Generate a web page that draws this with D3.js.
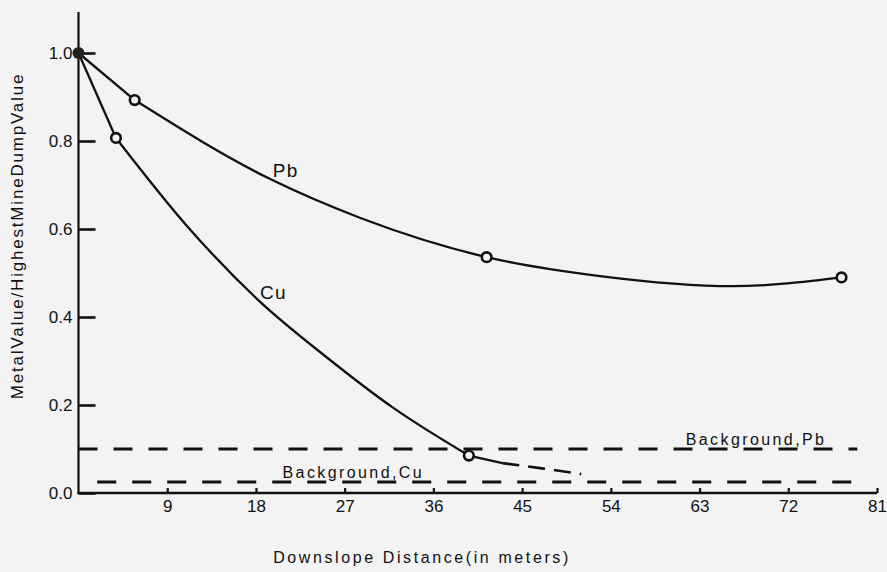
<!DOCTYPE html>
<html>
<head>
<meta charset="utf-8">
<script src="https://cdn.jsdelivr.net/npm/d3@7/dist/d3.min.js"></script>
<style>
  html, body { margin: 0; padding: 0; background: #f3f3f3; }
  svg { display: block; }
  text { font-family: "Liberation Sans", Arial, Helvetica, sans-serif; fill: #111; }
</style>
</head>
<body>
<svg id="chart" width="887" height="572"></svg>
<script>
// Sampled metal values (relative to the highest mine-dump value) vs. downslope distance, m
const pbSamples = [[0, 1.0], [5.7, 0.893], [41.4, 0.536], [77.4, 0.49]];
const cuSamples = [[0, 1.0], [3.8, 0.807], [39.6, 0.085]];

// Hand-fitted trend curves through the samples
const pbCurve = [[5.7, 0.893], [19.4, 0.714], [28.6, 0.625], [41.4, 0.536], [52.9, 0.493], [66.4, 0.470], [77.4, 0.49]];
const cuCurve = [[3.8, 0.807], [11, 0.607], [18.4, 0.435], [25.2, 0.308], [31.9, 0.194], [39.6, 0.085]];
const cuTail = [[39.6, 0.085], [43.0, 0.068]];
const cuExtrapolated = [[43.0, 0.068], [47.0, 0.056], [51.0, 0.043]];

// Background levels
const backgroundNames = ["Pb", "Cu"];
const backgroundValues = [0.10, 0.025];
const backgroundFrom = [0, 1.9];
const backgroundTo = [79, 79];
const backgroundLabelX = [61.6, 20.7];

const xTicks = [9, 18, 27, 36, 45, 54, 63, 72, 81];
const yTicks = [0, 0.2, 0.4, 0.6, 0.8, 1.0];

const svg = d3.select("#chart");
const ink = "#111";

const x = d3.scaleLinear().domain([0, 81]).range([78.5, 877]);
const y = d3.scaleLinear().domain([0, 1]).range([493, 53]);

// Axes
svg.append("line")
  .attr("x1", x(0)).attr("x2", x(0))
  .attr("y1", y(0) + 1).attr("y2", 12)
  .attr("stroke", ink).attr("stroke-width", 2.2);
svg.append("line")
  .attr("x1", x(0) - 1).attr("x2", x(81))
  .attr("y1", y(0)).attr("y2", y(0))
  .attr("stroke", ink).attr("stroke-width", 2.6);

const yAxis = svg.append("g")
  .attr("transform", `translate(${x(0)},0)`)
  .call(d3.axisLeft(y).tickValues(yTicks).tickFormat(d3.format(".1f"))
    .tickSize(-17).tickPadding(6));
yAxis.select(".domain").remove();
yAxis.selectAll(".tick line").attr("stroke", ink).attr("stroke-width", 2.6);
yAxis.selectAll(".tick text").attr("font-size", 17).attr("fill", ink)
  .style("font-family", "Liberation Sans, Arial, sans-serif");

const xAxis = svg.append("g")
  .attr("transform", `translate(0,${y(0)})`)
  .call(d3.axisBottom(x).tickValues(xTicks).tickSize(-5).tickPadding(7));
xAxis.select(".domain").remove();
xAxis.selectAll(".tick line").attr("stroke", ink).attr("stroke-width", 2.2);
xAxis.selectAll(".tick text").attr("font-size", 17).attr("fill", ink)
  .style("font-family", "Liberation Sans, Arial, sans-serif");

// Background dashed lines with labels
backgroundNames.forEach((name, i) => {
  svg.append("line")
    .attr("x1", x(backgroundFrom[i])).attr("x2", x(backgroundTo[i]))
    .attr("y1", y(backgroundValues[i])).attr("y2", y(backgroundValues[i]))
    .attr("stroke", ink).attr("stroke-width", 3)
    .attr("stroke-dasharray", "19,16");
  svg.append("text")
    .attr("x", x(backgroundLabelX[i]))
    .attr("y", y(backgroundValues[i]) - 4)
    .attr("font-size", 16)
    .attr("letter-spacing", 2.4)
    .text("Background," + name);
});

const line = d3.line().x(d => x(d[0])).y(d => y(d[1]));
const smooth = d3.line().x(d => x(d[0])).y(d => y(d[1])).curve(d3.curveMonotoneX);

// Straight lead-in from the origin sample, then the fitted curve
function drawSeries(samples, curve) {
  svg.append("path").attr("d", line(samples.slice(0, 2)))
    .attr("fill", "none").attr("stroke", ink).attr("stroke-width", 2.3);
  svg.append("path").attr("d", smooth(curve))
    .attr("fill", "none").attr("stroke", ink).attr("stroke-width", 2.3);
}
drawSeries(pbSamples, pbCurve);
drawSeries(cuSamples, cuCurve);

svg.append("path").attr("d", line(cuTail))
  .attr("fill", "none").attr("stroke", ink).attr("stroke-width", 2.3);
svg.append("path").attr("d", smooth(cuExtrapolated))
  .attr("fill", "none").attr("stroke", ink).attr("stroke-width", 2.6)
  .attr("stroke-dasharray", "17,9");

// Sample markers: shared origin is solid, the rest open
const markers = pbSamples.slice(1).concat(cuSamples.slice(1));
svg.selectAll("circle.open").data(markers).join("circle")
  .attr("class", "open")
  .attr("cx", d => x(d[0])).attr("cy", d => y(d[1]))
  .attr("r", 4.8)
  .attr("fill", "#f3f3f3").attr("stroke", ink).attr("stroke-width", 2.6);
svg.append("circle")
  .attr("cx", x(pbSamples[0][0])).attr("cy", y(pbSamples[0][1]))
  .attr("r", 6).attr("fill", "#222");

// Series labels
svg.append("text").attr("x", x(19.7)).attr("y", y(0.719))
  .attr("font-size", 19).attr("letter-spacing", 1.5).text("Pb");
svg.append("text").attr("x", x(18.4)).attr("y", y(0.441))
  .attr("font-size", 19).attr("letter-spacing", 1.5).text("Cu");

// Axis titles
svg.append("text")
  .attr("transform", `translate(23,236) rotate(-90)`)
  .attr("text-anchor", "middle")
  .attr("font-size", 17).attr("letter-spacing", 1.8)
  .text("MetalValue/HighestMineDumpValue");
svg.append("text")
  .attr("x", 422).attr("y", 563)
  .attr("text-anchor", "middle")
  .attr("font-size", 16).attr("letter-spacing", 2.6)
  .text("Downslope Distance(in meters)");
</script>
</body>
</html>
